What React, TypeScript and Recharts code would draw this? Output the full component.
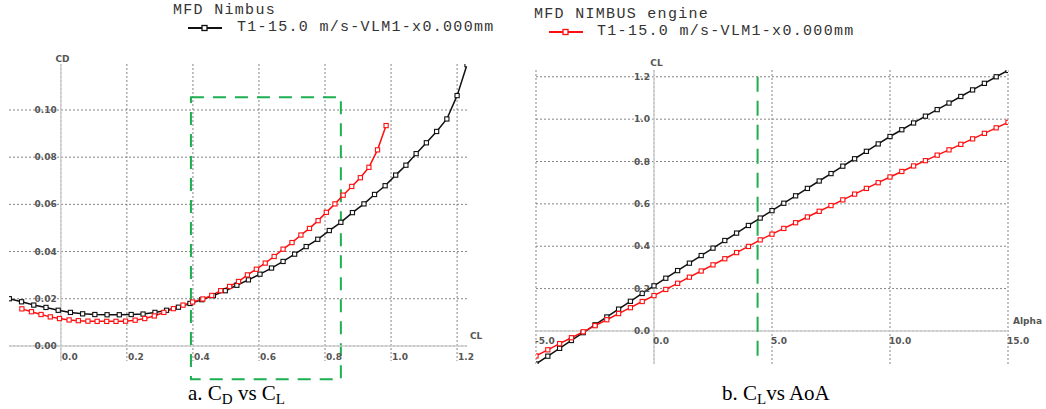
import React from 'react';
import { LineChart, Line, XAxis, YAxis, CartesianGrid, ReferenceLine, ReferenceArea } from 'recharts';

// ---------- data ----------
const alpha = [-5, -4.5, -4, -3.5, -3, -2.5, -2, -1.5, -1, -0.5, 0, 0.5, 1, 1.5, 2, 2.5, 3, 3.5, 4, 4.5, 5, 5.5, 6, 6.5, 7, 7.5, 8, 8.5, 9, 9.5, 10, 10.5, 11, 11.5, 12, 12.5, 13, 13.5, 14, 14.5, 15];

const nimbusCL = [-0.156, -0.119, -0.082, -0.045, -0.008, 0.029, 0.066, 0.103, 0.14, 0.177, 0.213, 0.249, 0.285, 0.32, 0.356, 0.391, 0.427, 0.462, 0.498, 0.533, 0.568, 0.603, 0.638, 0.673, 0.708, 0.743, 0.778, 0.813, 0.848, 0.883, 0.918, 0.95, 0.982, 1.014, 1.045, 1.076, 1.107, 1.138, 1.169, 1.2, 1.23];

const engineCL = [-0.118, -0.089, -0.06, -0.032, -0.004, 0.025, 0.053, 0.082, 0.11, 0.139, 0.167, 0.196, 0.225, 0.254, 0.283, 0.312, 0.341, 0.37, 0.399, 0.43, 0.457, 0.484, 0.511, 0.538, 0.565, 0.592, 0.619, 0.646, 0.673, 0.7, 0.727, 0.753, 0.779, 0.804, 0.83, 0.855, 0.881, 0.907, 0.933, 0.959, 0.985];

const nimbusCD = [0.02, 0.0187, 0.0173, 0.0163, 0.0151, 0.0142, 0.0136, 0.0133, 0.0132, 0.0132, 0.0133, 0.0135, 0.0142, 0.0151, 0.0164, 0.018, 0.0196, 0.0213, 0.0234, 0.0257, 0.028, 0.0304, 0.033, 0.0358, 0.0389, 0.0421, 0.0452, 0.0489, 0.0524, 0.0565, 0.0602, 0.0642, 0.0679, 0.0724, 0.0766, 0.0815, 0.0861, 0.0909, 0.0962, 0.1061, 0.1192];

const engineCD = [0.0157, 0.0145, 0.0133, 0.0123, 0.0116, 0.011, 0.0107, 0.0105, 0.0104, 0.0104, 0.0104, 0.0105, 0.0109, 0.0116, 0.0127, 0.0142, 0.0158, 0.0173, 0.0186, 0.0199, 0.0214, 0.0234, 0.0252, 0.0273, 0.0301, 0.0325, 0.0351, 0.0379, 0.041, 0.0438, 0.047, 0.0498, 0.0531, 0.0566, 0.0602, 0.0639, 0.0676, 0.0713, 0.0757, 0.0831, 0.0934];

const polarTicksCL = [0, 0.2, 0.4, 0.6, 0.8, 1.0, 1.2];
const polarTicksCD = [0, 0.02, 0.04, 0.06, 0.08, 0.1];
const liftTicksAlpha = [-5, 0, 5, 10, 15];
const liftTicksCL = [0, 0.2, 0.4, 0.6, 0.8, 1.0, 1.2];

const polarDomainCL = [-0.157, 1.23];
const polarDomainCD = [-0.0064, 0.1195];
const liftDomainAlpha = [-5, 15];
const liftDomainCL = [-0.156, 1.232];

// highlighted regions
const boxCL = [0.394, 0.848];
const boxCD = [-0.0141, 0.1054];
const markAlpha = 4.39;
const markCL = [-0.12, 1.2];

const leftTitle = 'MFD Nimbus';
const rightTitle = 'MFD NIMBUS engine';
const seriesName = 'T1-15.0 m/s-VLM1-x0.000mm';

// ---------- style ----------
const BLACK = '#111111';
const RED = '#ff1010';
const GREEN = '#1daf50';
const GRID = '#858585';
const AXIS = '#cfcfcf';
const TICK = '#555555';
const TICK_FONT = '"DejaVu Sans", sans-serif';
const MONO = '"Liberation Mono", "DejaVu Sans Mono", monospace';
const SERIF = '"Liberation Serif", "Times New Roman", serif';

const polarNimbus = nimbusCL.map((cl, i) => ({ cl, cd: nimbusCD[i] }));
const polarEngine = engineCL.map((cl, i) => ({ cl, cd: engineCD[i] }));
const liftData = alpha.map((a, i) => ({ alpha: a, nimbus: nimbusCL[i], engine: engineCL[i] }));

const squareDot = (color: string) => (props: any) => {
  const { cx, cy, index } = props;
  if (cx == null || cy == null) return <g key={index} />;
  return (
    <rect key={index} x={cx - 2.1} y={cy - 2.1} width={4.2} height={4.2} fill="#ffffff" stroke={color} strokeWidth={1.1} />
  );
};

// geometry
const LW = 520, LH = 409;
const LM = { top: 64, right: 53, bottom: 47, left: 8 };
const RW = 526, RH = 409;
const RM = { top: 70, right: 38, bottom: 44, left: 15 };

const offsetOf = (v: number, d: number[], len: number) => ((v - d[0]) / (d[1] - d[0])) * len;

const lPlotW = LW - LM.left - LM.right - 1;
const lPlotH = LH - LM.top - LM.bottom - 1;
const rPlotW = RW - RM.left - RM.right - 1;
const rPlotH = RH - RM.top - RM.bottom - 1;

const lZeroX = offsetOf(0, polarDomainCL, lPlotW);
const lZeroY = offsetOf(0, polarDomainCD, lPlotH);
const rZeroX = offsetOf(0, liftDomainAlpha, rPlotW);
const rZeroY = offsetOf(0, liftDomainCL, rPlotH);

const scaleOf = (axis: any, t: number, fallback: number) => {
  const s = axis && axis.scale;
  if (typeof s === 'function') {
    const v = s(t);
    if (typeof v === 'number' && !isNaN(v)) return v;
  }
  return fallback;
};

const tickText = { fontFamily: TICK_FONT, fontSize: 9, fill: TICK, fontWeight: 600 } as const;

const Txt = ({ left, top, children, style }: any) => (
  <div style={{ position: 'absolute', left, top, whiteSpace: 'nowrap', ...style }}>{children}</div>
);

const LegendIcon = ({ color }: { color: string }) => (
  <svg width={34} height={8} style={{ display: 'block' }}>
    <line x1={0} y1={4} x2={34} y2={4} stroke={color} strokeWidth={2.2} />
    <rect x={14} y={1.5} width={5} height={5} fill="#fff" stroke={color} strokeWidth={1.3} />
  </svg>
);

const legendText = { fontFamily: MONO, fontSize: 15, letterSpacing: '1.3px', color: '#333', lineHeight: '12px', height: 12 } as const;
const axisTitle = { fontFamily: TICK_FONT, fontSize: 9, color: TICK, fontWeight: 600, lineHeight: '10px', height: 10 } as const;

export default function App() {
  return (
    <div style={{ position: 'absolute', left: 0, top: 0, width: 1046, height: 409, background: '#fff', overflow: 'hidden' }}>
      {/* Left chart: CD vs CL */}
      <div style={{ position: 'absolute', left: 0, top: 0 }}>
        <LineChart width={LW} height={LH} margin={LM}>
          <CartesianGrid
            stroke={GRID}
            strokeDasharray="2 2"
            strokeWidth={1}
            verticalCoordinatesGenerator={({ xAxis }: any) =>
              polarTicksCL.map((t) => scaleOf(xAxis, t, LM.left + 1 + offsetOf(t, polarDomainCL, lPlotW)))
            }
            horizontalCoordinatesGenerator={({ yAxis }: any) =>
              polarTicksCD.map((t) => scaleOf(yAxis, t, LM.top + lPlotH - offsetOf(t, polarDomainCD, lPlotH)))
            }
          />
          <XAxis
            type="number"
            dataKey="cl"
            domain={polarDomainCL}
            ticks={polarTicksCL}
            allowDataOverflow
            height={1}
            tickSize={0}
            tickMargin={0}
            axisLine={false}
            tickLine={false}
            interval={0}
            tick={(p: any) => (
              <text key={p.index} x={p.x + 1} y={p.y - lZeroY + 11} textAnchor="start" dominantBaseline="central" {...tickText}>
                {Number(p.payload.value).toFixed(1)}
              </text>
            )}
          />
          <YAxis
            type="number"
            domain={polarDomainCD}
            ticks={polarTicksCD}
            allowDataOverflow
            width={1}
            tickSize={0}
            tickMargin={0}
            axisLine={false}
            tickLine={false}
            interval={0}
            tick={(p: any) => (
              <text key={p.index} x={p.x + lZeroX - 4} y={p.y} textAnchor="end" dominantBaseline="central" {...tickText}>
                {Number(p.payload.value).toFixed(2)}
              </text>
            )}
          />
          <ReferenceLine x={0} stroke={AXIS} strokeWidth={1.5} />
          <ReferenceLine y={0} stroke={AXIS} strokeWidth={1.5} />
          <Line data={polarNimbus} dataKey="cd" type="linear" stroke={BLACK} strokeWidth={1.5} dot={squareDot(BLACK)} isAnimationActive={false} />
          <Line data={polarEngine} dataKey="cd" type="linear" stroke={RED} strokeWidth={1.5} dot={squareDot(RED)} isAnimationActive={false} />
          <ReferenceArea
            x1={boxCL[0]}
            x2={boxCL[1]}
            y1={boxCD[0]}
            y2={boxCD[1]}
            ifOverflow="visible"
            fill="none"
            fillOpacity={0}
            stroke={GREEN}
            strokeWidth={2}
            strokeDasharray="13 9"
          />
        </LineChart>
      </div>

      {/* Right chart: CL vs Alpha */}
      <div style={{ position: 'absolute', left: 520, top: 0 }}>
        <LineChart width={RW} height={RH} margin={RM} data={liftData}>
          <CartesianGrid
            stroke={GRID}
            strokeDasharray="2 2"
            strokeWidth={1}
            verticalCoordinatesGenerator={({ xAxis }: any) =>
              liftTicksAlpha.map((t) => scaleOf(xAxis, t, RM.left + 1 + offsetOf(t, liftDomainAlpha, rPlotW)))
            }
            horizontalCoordinatesGenerator={({ yAxis }: any) =>
              liftTicksCL.map((t) => scaleOf(yAxis, t, RM.top + rPlotH - offsetOf(t, liftDomainCL, rPlotH)))
            }
          />
          <XAxis
            type="number"
            dataKey="alpha"
            domain={liftDomainAlpha}
            ticks={liftTicksAlpha}
            allowDataOverflow
            height={1}
            tickSize={0}
            tickMargin={0}
            axisLine={false}
            tickLine={false}
            interval={0}
            tick={(p: any) => (
              <text key={p.index} x={p.x - 1} y={p.y - rZeroY + 10} textAnchor="start" dominantBaseline="central" {...tickText}>
                {Number(p.payload.value).toFixed(1)}
              </text>
            )}
          />
          <YAxis
            type="number"
            domain={liftDomainCL}
            ticks={liftTicksCL}
            allowDataOverflow
            width={1}
            tickSize={0}
            tickMargin={0}
            axisLine={false}
            tickLine={false}
            interval={0}
            tick={(p: any) => (
              <text key={p.index} x={p.x + rZeroX - 4} y={p.y} textAnchor="end" dominantBaseline="central" {...tickText}>
                {Number(p.payload.value).toFixed(1)}
              </text>
            )}
          />
          <ReferenceLine x={0} stroke={AXIS} strokeWidth={1.5} />
          <ReferenceLine y={0} stroke={AXIS} strokeWidth={1.5} />
          <Line dataKey="nimbus" type="linear" stroke={BLACK} strokeWidth={1.5} dot={squareDot(BLACK)} isAnimationActive={false} />
          <Line dataKey="engine" type="linear" stroke={RED} strokeWidth={1.5} dot={squareDot(RED)} isAnimationActive={false} />
          <ReferenceLine
            segment={[{ x: markAlpha, y: markCL[1] }, { x: markAlpha, y: markCL[0] }]}
            stroke={GREEN}
            strokeWidth={2}
            strokeDasharray="15 9"
          />
        </LineChart>
      </div>

      {/* Axis titles */}
      <Txt left={62.5} top={58.5} style={{ transform: 'translate(-50%,-50%)', ...axisTitle }}>CD</Txt>
      <Txt left={470} top={336} style={{ transform: 'translateY(-50%)', ...axisTitle }}>CL</Txt>
      <Txt left={656.5} top={63} style={{ transform: 'translate(-50%,-50%)', ...axisTitle }}>CL</Txt>
      <Txt left={1013} top={321} style={{ transform: 'translateY(-50%)', ...axisTitle }}>Alpha</Txt>

      {/* Legends */}
      <Txt left={173} top={11.3} style={{ transform: 'translateY(-50%)', ...legendText }}>{leftTitle}</Txt>
      <div style={{ position: 'absolute', left: 188, top: 24.3 }}><LegendIcon color={BLACK} /></div>
      <Txt left={237} top={28.3} style={{ transform: 'translateY(-50%)', ...legendText }}>{seriesName}</Txt>

      <Txt left={534} top={15.3} style={{ transform: 'translateY(-50%)', ...legendText }}>{rightTitle}</Txt>
      <div style={{ position: 'absolute', left: 549, top: 28.3 }}><LegendIcon color={RED} /></div>
      <Txt left={597} top={32.3} style={{ transform: 'translateY(-50%)', ...legendText }}>{seriesName}</Txt>

      {/* Captions */}
      <Txt left={188} top={383} style={{ fontFamily: SERIF, fontSize: 21, color: '#000', lineHeight: 1 }}>
        a. C<sub style={{ fontSize: 15, verticalAlign: '-0.25em' }}>D</sub> vs C<sub style={{ fontSize: 15, verticalAlign: '-0.25em' }}>L</sub>
      </Txt>
      <Txt left={722} top={383} style={{ fontFamily: SERIF, fontSize: 21, color: '#000', lineHeight: 1 }}>
        b. C<sub style={{ fontSize: 15, verticalAlign: '-0.25em' }}>L</sub>vs AoA
      </Txt>
    </div>
  );
}
